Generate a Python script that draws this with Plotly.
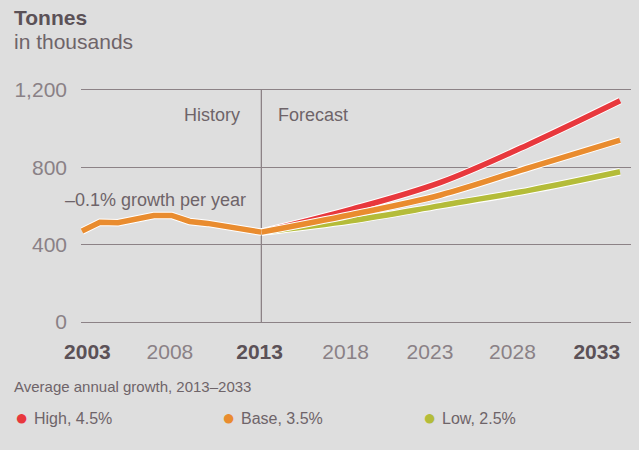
import plotly.graph_objects as go

# ---- data ----
hist_years = [2003, 2004, 2005, 2006, 2007, 2008, 2009, 2010, 2011, 2012, 2013]
hist_values = [470, 516, 514, 530, 551, 551, 520, 510, 495, 480, 465]

fc_years = [2013, 2018, 2023, 2028, 2033]
high_values = [465, 582, 722, 922, 1144]
base_values = [465, 555, 657, 800, 941]
low_values = [465, 524, 602, 682, 777]

tick_labels = ["2003", "2008", "2013", "2018", "2023", "2028", "2033"]
tick_bold = [True, False, True, False, False, False, True]
tick_pos = [2003.3, 2007.9, 2012.9, 2017.7, 2022.4, 2027.0, 2031.7]
y_ticks = [0, 400, 800, 1200]

RED = "#e8383d"
ORANGE = "#e98c2f"
GREEN = "#b4bc39"
BG = "#dedede"
DARK = "#5b5157"
MID = "#6e6469"
LIGHT = "#8a8186"
GRID = "#8c8286"

W, H = 639, 450
# pixel geometry: y=0 at 322px, y=1200 at 90px; x plot from 81 to 631
Y0PX, Y1PX = 322, 90
YLO, YHI = -15, 1215
upp = 1200 / (Y0PX - Y1PX)
T = Y1PX - (YHI - 1200) / upp
B = H - (Y0PX + (0 - YLO) / upp)
L, R = 81, 8
pw, ph = W - L - R, H - T - B


def px(x):
    return (x - L) / pw


def py(y):
    return (H - B - y) / ph


fig = go.Figure()


def add_line(xs, ys, color):
    fig.add_trace(go.Scatter(x=xs, y=ys, mode="lines", line=dict(color="white", width=7.5, shape="spline"),
                             hoverinfo="skip", showlegend=False))
    fig.add_trace(go.Scatter(x=xs, y=ys, mode="lines", line=dict(color=color, width=5.5, shape="spline"),
                             showlegend=False))


add_line(fc_years, low_values, GREEN)
add_line(fc_years, high_values, RED)
add_line(fc_years, base_values, ORANGE)
fig.add_trace(go.Scatter(x=hist_years, y=hist_values, mode="lines", line=dict(color="white", width=7.5),
                         hoverinfo="skip", showlegend=False))
fig.add_trace(go.Scatter(x=hist_years, y=hist_values, mode="lines", line=dict(color=ORANGE, width=5.5),
                         showlegend=False))

fig.add_shape(type="line", xref="x", yref="y", x0=2013, x1=2013, y0=0, y1=1200,
              line=dict(color=GRID, width=1.3), layer="below")

ticktext = [f"<b><span style='color:{DARK}'>{t}</span></b>" if b else f"<span style='color:{LIGHT}'>{t}</span>"
            for t, b in zip(tick_labels, tick_bold)]

fig.update_layout(
    width=W, height=H,
    margin=dict(l=L, r=R, t=T, b=B),
    paper_bgcolor=BG, plot_bgcolor=BG,
    font=dict(family="Liberation Sans, Arial, sans-serif", color=MID),
    xaxis=dict(range=[2002.944, 2033.61], tickvals=tick_pos, ticktext=ticktext, automargin=False,
               showgrid=False, zeroline=False, showline=False, ticks="",
               tickfont=dict(size=21), ticklabelstandoff=12, fixedrange=True),
    yaxis=dict(range=[YLO, YHI], tickvals=y_ticks, tickformat=",", showgrid=True, automargin=False,
               gridcolor=GRID, gridwidth=1.3, zeroline=False, showline=False, ticks="",
               tickfont=dict(size=21, color=LIGHT), ticklabelstandoff=13, fixedrange=True),
)

ann = [
    dict(text="<b>Tonnes</b>", x=px(12), y=py(18), font=dict(size=21, color=DARK)),
    dict(text="in thousands", x=px(12), y=py(42), font=dict(size=21, color=MID)),
    dict(text="–0.1% growth per year", x=px(63), y=py(200), font=dict(size=18, color=MID)),
    dict(text="Average annual growth, 2013–2033", x=px(12), y=py(386), font=dict(size=15, color=MID)),
    dict(text="High, 4.5%", x=px(32), y=py(418), font=dict(size=16, color=MID)),
    dict(text="Base, 3.5%", x=px(239), y=py(418), font=dict(size=16, color=MID)),
    dict(text="Low, 2.5%", x=px(440), y=py(418), font=dict(size=16, color=MID)),
]
for a in ann:
    fig.add_annotation(xref="paper", yref="paper", xanchor="left", yanchor="middle", showarrow=False, **a)

for cx, col in [(21, RED), (228, ORANGE), (429, GREEN)]:
    fig.add_annotation(text="●", xref="paper", yref="paper", x=px(cx), y=py(417), xanchor="center",
                       yanchor="middle", showarrow=False, font=dict(size=22, color=col))

fig.add_annotation(text="History", xref="x", yref="paper", x=2013, y=py(115), xanchor="right", yanchor="middle",
                   xshift=-19, showarrow=False, font=dict(size=18, color=MID))
fig.add_annotation(text="Forecast", xref="x", yref="paper", x=2013, y=py(115), xanchor="left", yanchor="middle",
                   xshift=15, showarrow=False, font=dict(size=18, color=MID))

fig.write_html("out.html", config={"displayModeBar": False},
               post_script="document.body.style.margin='0';document.body.style.background='" + BG + "';")
